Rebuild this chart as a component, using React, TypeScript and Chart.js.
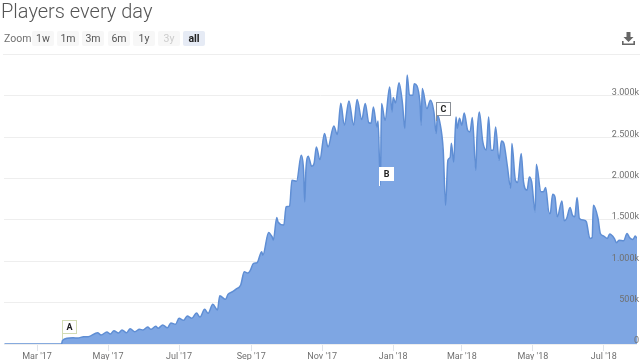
import React, { useEffect, useRef } from "react";
import { Chart, registerables } from "chart.js";

Chart.register(...registerables);

const tickDays = [0, 61, 122, 184, 245, 306, 365, 426, 487];
const tickLabels = ["Mar '17", "May '17", "Jul '17", "Sep '17", "Nov '17", "Jan '18", "Mar '18", "May '18", "Jul '18"];
const yTicks = [0, 500, 1000, 1500, 2000, 2500, 3000];
const yLabels = ["0", "500k", "1.000k", "1.500k", "2.000k", "2.500k", "3.000k"];
const rangeButtons = ["1w", "1m", "3m", "6m", "1y", "3y", "all"];

const playerDays = [
  -28, 21, 22, 31, 35, 40, 44, 52, 55, 60, 63, 66, 70, 73, 77, 80, 84, 88, 91, 95, 98, 102, 104, 108, 112, 115, 119, 122, 126, 129,
  133, 137, 140, 144, 147, 151, 155, 157, 162, 164, 168, 171, 175, 178, 181, 183, 186, 189, 193, 194, 199, 201, 202, 203, 206, 207, 212, 214, 217, 219,
  223, 227, 229, 230, 231, 233, 236, 238, 240, 243, 247, 250, 255, 258, 261, 264, 268, 272, 275, 279, 282, 285, 287, 289, 292, 293, 295, 296, 299, 303,
  305, 306, 308, 311, 314, 316, 318, 320, 323, 324, 329, 330, 331, 335, 338, 341, 343, 344, 346, 349, 351, 353, 355, 356, 358, 360, 361, 363, 365, 367,
  370, 372, 374, 377, 378, 380, 383, 386, 388, 390, 392, 394, 397, 399, 401, 404, 407, 408, 411, 413, 416, 418, 421, 423, 425, 428, 429, 433, 435, 437,
  440, 441, 443, 445, 447, 451, 453, 455, 458, 460, 462, 464, 466, 470, 472, 475, 477, 478, 482, 484, 487, 490, 492, 496, 498, 500, 504, 507, 509, 512, 514, 515.5,
];
const playerCountsK = [
  0, 0, 48, 76, 72, 88, 88, 136, 109, 145, 121, 161, 133, 169, 136, 185, 149, 178, 169, 205, 178, 214, 190, 230, 197, 254, 238, 310, 286, 338,
  310, 374, 326, 419, 371, 480, 411, 583, 540, 600, 632, 664, 713, 873, 858, 885, 975, 982, 1115, 1075, 1349, 1317, 1296, 1256, 1531, 1477, 1438, 1659, 1667, 1981,
  1969, 2283, 2102, 1719, 2102, 2271, 2150, 2183, 2383, 2231, 2545, 2383, 2637, 2533, 2911, 2645, 2939, 2645, 2956, 2714, 2908, 2678, 2670, 2867, 2625, 2697, 1921, 2908, 2706, 3108,
  2806, 2980, 2915, 3161, 2908, 2606, 3253, 3008, 3008, 3149, 2927, 2646, 3089, 2847, 2948, 2806, 2545, 2766, 2685, 2344, 1679, 2223, 2259, 2428, 2202, 2746, 2609, 2730, 2646, 2794,
  2585, 2565, 2739, 2102, 2504, 2806, 2444, 2344, 2746, 2344, 2344, 2625, 2223, 2456, 2432, 2162, 1885, 2424, 1981, 1953, 2304, 1961, 1860, 2021, 1961, 1598, 2174, 1840, 1840, 1893,
  1579, 1583, 1812, 1779, 1538, 1731, 1490, 1518, 1651, 1558, 1538, 1772, 1518, 1498, 1477, 1277, 1289, 1679, 1518, 1337, 1305, 1277, 1329, 1277, 1224, 1256, 1248, 1337, 1289, 1265, 1305, 1277,
];

const flagLabels = ["A", "B", "C"];
const flagDays = [22, 295, 344];
const flagValuesK = [62, 1908, 2693];

const flagPlugin = {
  id: "flags",
  afterDatasetsDraw(chart: any) {
    const { ctx, scales } = chart;
    const borders = ["#d3dcb4", "#ffffff", "#8a8f96"];
    ctx.save();
    flagLabels.forEach((label, i) => {
      const px = Math.round(scales.x.getPixelForValue(flagDays[i]));
      const py = Math.round(scales.y.getPixelForValue(flagValuesK[i]));
      const w = 14;
      const h = 13;
      const left = px - 0.5;
      const top = py - 6 - h + 0.5;
      ctx.strokeStyle = borders[i];
      ctx.lineWidth = 1;
      ctx.beginPath();
      ctx.moveTo(left, top + h);
      ctx.lineTo(left, py);
      ctx.stroke();
      ctx.fillStyle = "#ffffff";
      ctx.fillRect(left, top, w, h);
      ctx.strokeRect(left, top, w, h);
      ctx.fillStyle = "#222222";
      ctx.font = "bold 9px Roboto";
      ctx.textAlign = "center";
      ctx.textBaseline = "middle";
      ctx.fillText(label, left + w / 2, top + h / 2 + 0.5);
    });
    ctx.restore();
  },
};

export default function App() {
  const ref = useRef<HTMLCanvasElement>(null);

  useEffect(() => {
    const chart = new Chart(ref.current!, {
      type: "line",
      data: {
        datasets: [
          {
            data: playerDays.map((d, i) => ({ x: d, y: playerCountsK[i] })),
            borderColor: "#5f8ed4",
            borderWidth: 1.5,
            backgroundColor: "#7ea6e3",
            fill: "origin",
            pointRadius: 0,
            cubicInterpolationMode: "monotone",
          },
        ],
      },
      options: {
        responsive: false,
        animation: false,
        layout: { padding: { left: 4, right: 3, top: 60, bottom: 0 } },
        plugins: { legend: { display: false }, tooltip: { enabled: false } },
        scales: {
          x: {
            type: "linear",
            min: -28.4,
            max: 515.5,
            afterBuildTicks: (s: any) => {
              s.ticks = tickDays.map((value) => ({ value }));
            },
            afterFit: (s: any) => {
              s.height = 16;
            },
            grid: { drawOnChartArea: false, drawTicks: true, tickLength: 7, color: "#e0e4ea" },
            border: { display: false },
            ticks: {
              autoSkip: false,
              maxRotation: 0,
              padding: 0,
              color: "#707070",
              font: { family: "Roboto", size: 9 },
              callback: (v: any) => tickLabels[tickDays.indexOf(v)] ?? "",
            },
          },
          y: {
            position: "right",
            min: 0,
            max: 3435,
            afterBuildTicks: (s: any) => {
              s.ticks = yTicks.map((value) => ({ value }));
            },
            afterFit: (s: any) => {
              s.width = 0;
            },
            grid: { color: "#eeeeee", drawTicks: false },
            border: { display: false },
            ticks: {
              mirror: true,
              padding: 2,
              labelOffset: -3,
              z: 1,
              color: "#707070",
              font: { family: "Roboto", size: 9 },
              callback: (v: any) => yLabels[yTicks.indexOf(v)] ?? "",
            },
          },
        },
      },
      plugins: [flagPlugin],
    } as any);
    return () => chart.destroy();
  }, []);

  const btnLeft = [32, 57, 82, 108, 133, 158, 183];

  return (
    <div style={{ position: "absolute", left: 0, top: 0, width: 640, height: 360, overflow: "hidden", background: "#fff", fontFamily: "Roboto" }}>
      <canvas ref={ref} width={640} height={360} style={{ position: "absolute", left: 0, top: 0, display: "block" }} />
      <div style={{ position: "absolute", left: 1, top: -2, fontSize: 20, lineHeight: "26px", fontWeight: 300, color: "#555", whiteSpace: "nowrap" }}>
        Players every day
      </div>
      <div style={{ position: "absolute", left: 4, top: 31, fontSize: 10.5, lineHeight: "15px", color: "#707070" }}>Zoom</div>
      {rangeButtons.map((b, i) => (
        <div
          key={b}
          style={{
            position: "absolute",
            left: btnLeft[i],
            top: 31,
            width: 22,
            height: 15,
            lineHeight: "15px",
            textAlign: "center",
            fontSize: 10.5,
            borderRadius: 2,
            background: b === "all" ? "#e6ebf5" : "#f7f7f7",
            color: b === "all" ? "#222" : b === "3y" ? "#ccc" : "#555",
            fontWeight: b === "all" ? 700 : 400,
          }}
        >
          {b}
        </div>
      ))}
      <div style={{ position: "absolute", left: 3, top: 54, width: 637, height: 1, background: "#eeeeee" }} />
      <svg style={{ position: "absolute", left: 621, top: 31 }} width={15} height={15} viewBox="0 0 15 15">
        <path d="M5.5 1h4v5h3l-5 5-5-5h3z" fill="#666" />
        <path d="M1 10v4h13v-4h-1.6v2.4H2.6V10z" fill="#666" />
      </svg>
    </div>
  );
}
